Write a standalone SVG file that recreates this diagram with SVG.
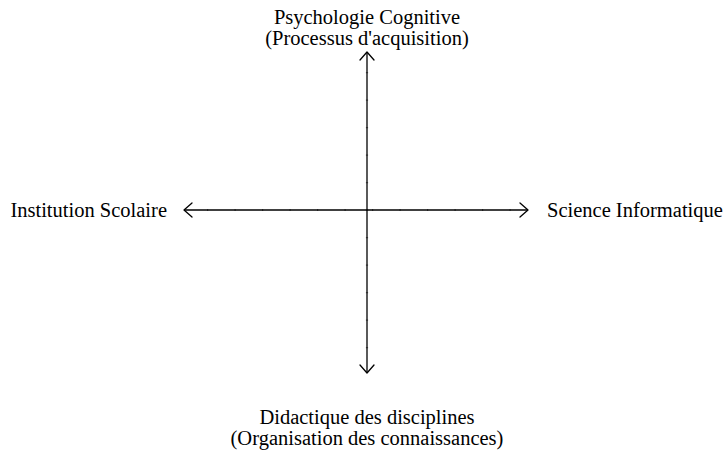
<svg xmlns="http://www.w3.org/2000/svg" width="725" height="455" viewBox="0 0 725 455">
<style>
text{font-family:"Liberation Serif","Times New Roman",serif;font-size:20.5px;fill:#000}
.ax{stroke:#000;stroke-width:1.3;fill:none}
.tk{stroke:#000;stroke-width:2.2;fill:none;stroke-dasharray:1.2 26.3;opacity:0.5}
.hd{stroke:#000;stroke-width:1.3;fill:none;stroke-linecap:round;stroke-linejoin:round}
</style>
<rect width="725" height="455" fill="#fff"/>
<g id="connectors">
<line class="ax" x1="184" y1="210" x2="528" y2="210"/>
<line class="ax" x1="367" y1="52" x2="367" y2="373"/>
<line class="tk" x1="207" y1="210" x2="520" y2="210"/>
<line class="tk" x1="367" y1="72" x2="367" y2="365"/>
<polyline class="hd" points="192,203 184,210 192,217"/>
<polyline class="hd" points="520,203 528,210 520,217"/>
<polyline class="hd" points="360,60 367,52 374,60"/>
<polyline class="hd" points="360,365 367,373 374,365"/>
</g>
<g id="top"><text x="367" y="23.5" text-anchor="middle">Psychologie Cognitive</text><text x="367" y="45" text-anchor="middle">(Processus d'acquisition)</text></g>
<g id="left"><text x="167" y="217" text-anchor="end">Institution Scolaire</text></g>
<g id="right"><text x="547" y="217">Science Informatique</text></g>
<g id="bottom"><text x="367" y="423.5" text-anchor="middle">Didactique des disciplines</text><text x="367" y="444.5" text-anchor="middle">(Organisation des connaissances)</text></g>
</svg>
